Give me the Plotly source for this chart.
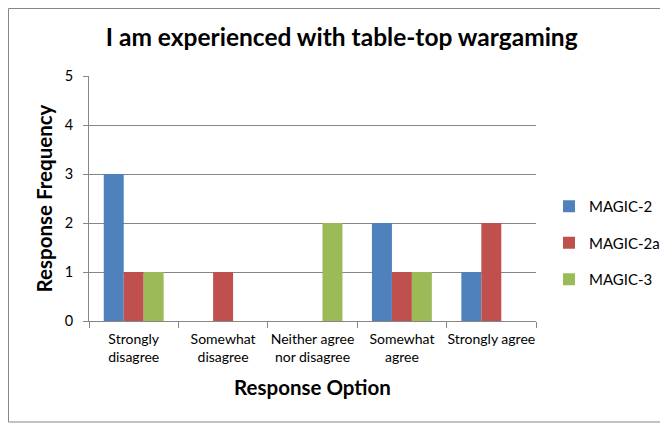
import plotly.graph_objects as go

categories = ["Strongly<br>disagree", "Somewhat<br>disagree", "Neither agree<br>nor disagree",
              "Somewhat<br>agree", "Strongly agree"]
magic_2 = [3, 0, 0, 2, 1]
magic_2a = [1, 1, 0, 1, 2]
magic_3 = [1, 0, 2, 1, 0]

series = [("MAGIC-2", magic_2, "#4F81BD"),
          ("MAGIC-2a", magic_2a, "#C0504D"),
          ("MAGIC-3", magic_3, "#9BBB59")]

# page body has an 8px margin, so the figure is 8px smaller than the window
W, H = 660, 416
L, R, T, B = 81, 132, 68, 103
pw, ph = W - L - R, H - T - B
font = "Lato, 'Open Sans', sans-serif"
grey = "#868686"

fig = go.Figure()
for name, vals, c in series:
    fig.add_trace(go.Bar(x=categories, y=vals, name=name, marker_color=c,
                         marker_line_width=0, legendgroup=name))


def px_x(p):
    return (p - L) / pw


def px_y(p):
    return (H - B - p) / ph


# chart border (Excel chart area)
fig.add_shape(type="rect", xref="paper", yref="paper",
              x0=px_x(0.5), x1=px_x(680), y0=px_y(414), y1=px_y(0.5),
              line=dict(color=grey, width=1), layer="below")

fig.update_layout(
    width=W, height=H,
    margin=dict(l=L, r=R, t=T, b=B),
    paper_bgcolor="white", plot_bgcolor="white",
    font=dict(family=font, color="black"),
    title=dict(text="<b>I am experienced with table-top wargaming</b>",
               x=333.7 / W, xanchor="center", y=1 - 29.5 / H, yanchor="middle",
               font=dict(size=24.5, family=font)),
    barmode="group", bargap=0.33, bargroupgap=0,
    showlegend=True,
    legend=dict(xref="container", yref="container",
                x=541 / W, xanchor="left", y=1 - 182 / H, yanchor="top",
                font=dict(size=15), tracegroupgap=14, bgcolor="rgba(0,0,0,0)"),
    xaxis=dict(
        title=dict(text="<b>Response Option</b>", font=dict(size=20.5), standoff=16),
        tickfont=dict(size=14), tickangle=0, showline=True, linecolor=grey, linewidth=1,
        ticks="outside", tickson="boundaries", ticklen=6, tickcolor=grey,
        ticklabelstandoff=5, showgrid=False, automargin=False,
    ),
    yaxis=dict(
        title=dict(text="<b>Response Frequency</b>", font=dict(size=20.5), standoff=6),
        range=[0, 5], dtick=1, tickfont=dict(size=14.5),
        showline=True, linecolor=grey, linewidth=1,
        ticks="outside", ticklen=5, tickcolor=grey, ticklabelstandoff=7,
        showgrid=True, gridcolor=grey, gridwidth=1, zeroline=False, automargin=False,
    ),
)

fig.write_html("out.html")
